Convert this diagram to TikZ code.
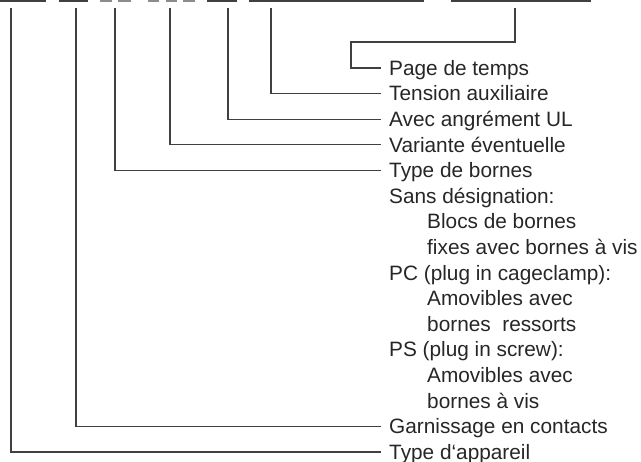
\documentclass[tikz,border=0pt]{standalone}
\usepackage{fontspec}
\setmainfont{Liberation Sans}
\usetikzlibrary{positioning}

\begin{document}
\begin{tikzpicture}[x=1pt, y=-1pt,
  lbl/.style={anchor=west, inner xsep=8pt, inner ysep=0pt, text height=14.5pt, text depth=0pt,
    font=\fontsize{20.8}{24}\selectfont, text=black!85},
  lead/.style={draw=black!75, line width=1.1pt},
  rule/.style={draw=black!75, line width=1.6pt},
  gap/.style={draw=black!45, line width=1.6pt}
]
\useasboundingbox (0,0) rectangle (641,462);
% code line at the top
\draw[rule] (0,1) -- (46,1);
\draw[rule] (59,1) -- (88,1);
\draw[gap] (100,1) -- (112,1);
\draw[gap] (118,1) -- (131,1);
\draw[gap] (148,1) -- (159,1);
\draw[gap] (166,1) -- (177,1);
\draw[gap] (183,1) -- (195,1);
\draw[rule] (207,1) -- (237,1);
\draw[rule] (249,1) -- (424,1);
\draw[rule] (451,1) -- (591,1);
% labels
\node[lbl] (page) at (381,68) {Page de temps};
\node[lbl] (tension) at (381,93.6) {Tension auxiliaire};
\node[lbl] (ul) at (381,119.2) {Avec angrément UL};
\node[lbl] (variante) at (381,144.8) {Variante éventuelle};
\node[lbl] (bornes) at (381,170.4) {Type de bornes};
\node[lbl] (sans) at (381,196) {Sans désignation:};
\node[lbl] (blocs) at (419,221.6) {Blocs de bornes};
\node[lbl] (fixes) at (419,247.2) {fixes avec bornes à vis};
\node[lbl] (pc) at (381,272.8) {PC (plug in cageclamp):};
\node[lbl] (amopc) at (419,298.4) {Amovibles avec};
\node[lbl] (ressorts) at (419,324) {bornes~~ressorts};
\node[lbl] (ps) at (381,349.6) {PS (plug in screw):};
\node[lbl] (amops) at (419,375.2) {Amovibles avec};
\node[lbl] (vis) at (419,400.8) {bornes à vis};
\node[lbl] (garn) at (381,426.4) {Garnissage en contacts};
\node[lbl] (app) at (381,452) {Type d‘appareil};
% leaders
\coordinate (tapp) at (11,8);
\coordinate (tgarn) at (76,8);
\coordinate (tbornes) at (115,8);
\coordinate (tvariante) at (170,8);
\coordinate (tul) at (228,8);
\coordinate (ttension) at (271,8);
\coordinate (tpage) at (515,8);
\coordinate (kpage) at (351,42);
\draw[lead] (tpage) |- (kpage) |- (page.west);
\draw[lead] (ttension) |- (tension.west);
\draw[lead] (tul) |- (ul.west);
\draw[lead] (tvariante) |- (variante.west);
\draw[lead] (tbornes) |- (bornes.west);
\draw[lead] (tgarn) |- (garn.west);
\draw[lead] (tapp) |- (app.west);
\end{tikzpicture}
\end{document}
